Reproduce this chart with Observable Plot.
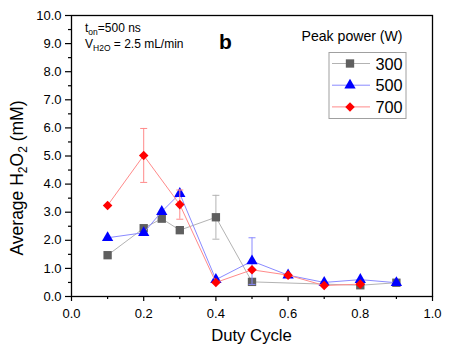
<!DOCTYPE html>
<html>
<head>
<meta charset="utf-8">
<script src="https://cdn.jsdelivr.net/npm/d3@7"></script>
<script src="https://cdn.jsdelivr.net/npm/@observablehq/plot@0.6"></script>
<style>
  html, body { margin: 0; padding: 0; background: #fff; }
  #chart { width: 452px; height: 355px; }
</style>
</head>
<body>
<div id="chart"></div>
<script>
// ---- data ----
const duty300 = [0.1, 0.2, 0.25, 0.3, 0.4, 0.5, 0.8, 0.9];
const h2o2_300 = [1.47, 2.43, 2.77, 2.36, 2.82, 0.52, 0.40, 0.49];
const err300 = [0, 0, 0, 0, 0.78, 0, 0, 0];

const duty500 = [0.1, 0.2, 0.25, 0.3, 0.4, 0.5, 0.6, 0.7, 0.8, 0.9];
const h2o2_500 = [2.09, 2.27, 3.02, 3.66, 0.60, 1.26, 0.76, 0.50, 0.60, 0.49];
const err500 = [0, 0, 0, 0, 0, 0.83, 0, 0, 0, 0];

const duty700 = [0.1, 0.2, 0.3, 0.4, 0.5, 0.6, 0.7, 0.8];
const h2o2_700 = [3.24, 5.02, 3.27, 0.50, 0.95, 0.76, 0.39, 0.44];
const err700 = [0, 0.96, 0.52, 0, 0, 0, 0, 0];

const seriesNames = ["300", "500", "700"];
const xTicks = [0, 0.2, 0.4, 0.6, 0.8, 1.0];
const xMinor = [0.1, 0.3, 0.5, 0.7, 0.9];
const yTicks = [0, 1, 2, 3, 4, 5, 6, 7, 8, 9, 10];
const yMinor = [0.5, 1.5, 2.5, 3.5, 4.5, 5.5, 6.5, 7.5, 8.5, 9.5];

// ---- styles ----
const styles = {
  "300": {marker: "#5f5f5f", line: "#b3b3b3", symbol: "square", r: 4.7},
  "500": {marker: "#0000ff", line: "#8a8aff", symbol: "triangle", r: 4.2},
  "700": {marker: "#ff0000", line: "#ff8a8a", symbol: "diamond2", r: 4.3}
};

function build(xs, ys, es) {
  return xs.map((x, i) => ({x, y: ys[i], e: es[i]}));
}
const data = {
  "300": build(duty300, h2o2_300, err300),
  "500": build(duty500, h2o2_500, err500),
  "700": build(duty700, h2o2_700, err700)
};

const capSymbol = {
  draw(ctx, size) {
    const w = Math.sqrt(size / Math.PI);
    ctx.moveTo(-w, 0);
    ctx.lineTo(w, 0);
  }
};

const marks = [];
for (const name of seriesNames) {
  const s = styles[name];
  const d = data[name];
  const errs = d.filter(p => p.e > 0);
  const caps = errs.flatMap(p => [{x: p.x, y: p.y + p.e}, {x: p.x, y: p.y - p.e}]);
  marks.push(Plot.line(d, {x: "x", y: "y", stroke: s.line, strokeWidth: 1}));
  marks.push(Plot.ruleX(errs, {x: "x", y1: p => p.y - p.e, y2: p => p.y + p.e, stroke: s.line, strokeWidth: 1}));
  marks.push(Plot.dot(caps, {x: "x", y: "y", symbol: capSymbol, r: 3.5, fill: "none", stroke: s.line, strokeWidth: 1}));
  marks.push(Plot.dot(d, {x: "x", y: "y", symbol: s.symbol, r: s.r, fill: s.marker, stroke: "none"}));
}

const chart = Plot.plot({
  width: 452,
  height: 355,
  marginLeft: 71,
  marginRight: 20,
  marginTop: 15,
  marginBottom: 59,
  style: {fontFamily: "'Liberation Sans', Arial, sans-serif", fontSize: "13px", background: "#fff", color: "#000"},
  x: {domain: [0, 1]},
  y: {domain: [0, 10]},
  marks: [
    ...marks,
    Plot.axisX({ticks: xTicks, tickFormat: d => d.toFixed(1), tickSize: 5, tickPadding: 7, label: null, fontSize: 13, strokeWidth: 1.2}),
    Plot.axisX({ticks: xMinor, tickFormat: () => "", tickSize: 3, label: null, strokeWidth: 1.2}),
    Plot.axisY({ticks: yTicks, tickFormat: d => d.toFixed(1), tickSize: 6, tickPadding: 4, label: null, fontSize: 13, strokeWidth: 1.2}),
    Plot.axisY({ticks: yMinor, tickFormat: () => "", tickSize: 3, label: null, strokeWidth: 1.2}),
    Plot.frame({stroke: "#000", strokeWidth: 1.3})
  ]
});
document.getElementById("chart").appendChild(chart);

// ---- titles, annotations, legend (SVG text with subscripts) ----
const svg = d3.select(chart);
const font = "'Liberation Sans', Arial, sans-serif";

// x title
svg.append("text")
  .attr("x", 251.5).attr("y", 341)
  .attr("text-anchor", "middle")
  .attr("font-family", font).attr("font-size", 16.7).attr("fill", "#000")
  .text("Duty Cycle");

// y title
const yt = svg.append("text")
  .attr("transform", "translate(23,178) rotate(-90)")
  .attr("text-anchor", "middle")
  .attr("font-family", font).attr("font-size", 17.5).attr("fill", "#000");
yt.append("tspan").text("Average H");
yt.append("tspan").attr("font-size", 12).attr("dy", 4).text("2");
yt.append("tspan").attr("dy", -4).text("O");
yt.append("tspan").attr("font-size", 12).attr("dy", 4).text("2");
yt.append("tspan").attr("dy", -4).text(" (mM)");

// annotation
const a1 = svg.append("text").attr("x", 85).attr("y", 31.5)
  .attr("text-anchor", "start")
  .attr("font-family", font).attr("font-size", 12).attr("fill", "#000");
a1.append("tspan").text("t");
a1.append("tspan").attr("font-size", 8.5).attr("dy", 3).text("on");
a1.append("tspan").attr("dy", -3).text("=500 ns");

const a2 = svg.append("text").attr("x", 85).attr("y", 48)
  .attr("text-anchor", "start")
  .attr("font-family", font).attr("font-size", 12).attr("fill", "#000");
a2.append("tspan").text("V");
a2.append("tspan").attr("font-size", 8.5).attr("dy", 3).text("H2O");
a2.append("tspan").attr("dy", -3).text(" = 2.5 mL/min");

svg.append("text").attr("x", 219).attr("y", 48.5)
  .attr("text-anchor", "start")
  .attr("font-family", font).attr("font-size", 21).attr("font-weight", "bold").attr("fill", "#000")
  .text("b");

// legend
svg.append("text").attr("x", 301.5).attr("y", 41)
  .attr("text-anchor", "start")
  .attr("font-family", font).attr("font-size", 14.1).attr("fill", "#000")
  .text("Peak power (W)");
svg.append("rect").attr("x", 329).attr("y", 52.5).attr("width", 77).attr("height", 66)
  .attr("fill", "#fff").attr("stroke", "#a0a0a0").attr("stroke-width", 1);

const symMap = {square: d3.symbolSquare, triangle: d3.symbolTriangle, diamond2: d3.symbolDiamond2};
seriesNames.forEach((name, i) => {
  const s = styles[name];
  const cy = 63.5 + i * 21.7;
  svg.append("line").attr("x1", 332).attr("x2", 370).attr("y1", cy).attr("y2", cy)
    .attr("stroke", s.line).attr("stroke-width", 1);
  svg.append("path")
    .attr("transform", `translate(350,${cy})`)
    .attr("d", d3.symbol(symMap[s.symbol], Math.PI * s.r * s.r)())
    .attr("fill", s.marker);
  svg.append("text").attr("x", 375.5).attr("y", cy + 6)
    .attr("text-anchor", "start")
    .attr("font-family", font).attr("font-size", 16.3).attr("fill", "#000")
    .text(name);
});
</script>
</body>
</html>
